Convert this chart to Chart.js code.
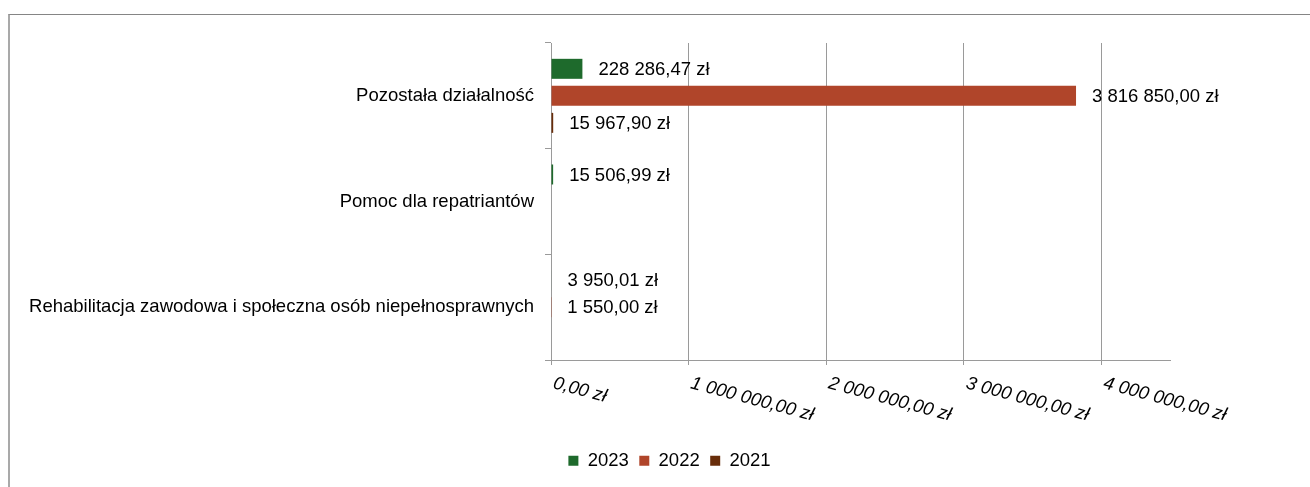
<!DOCTYPE html>
<html lang="pl">
<head>
<meta charset="utf-8">
<title>Wydatki według rozdziałów</title>
<script src="https://cdn.jsdelivr.net/npm/chart.js@4.4.1/dist/chart.umd.min.js"></script>
<style>
  html, body { margin: 0; padding: 0; background: #fff; overflow: hidden; }
  #ramka { position: absolute; left: 8px; top: 14px; width: 1320px; height: 480px;
           border-top: 1px solid #858585; border-left: 2px solid #a9a9a9; }
  #wykres { position: absolute; left: 0; top: 0; }
</style>
</head>
<body>
<div id="ramka"></div>
<canvas id="wykres" width="1339" height="487"></canvas>
<script>
// Dane: kwoty wydatków w poszczególnych latach
const kategorie = ['Pozostała działalność', 'Pomoc dla repatriantów', 'Rehabilitacja zawodowa i społeczna osób niepełnosprawnych'];
const lata = ['2023', '2022', '2021'];
const kwoty2023 = [228286.47, 15506.99, 3950.01];
const kwoty2022 = [3816850.00, null, 1550.00];
const kwoty2021 = [15967.90, null, null];
const kolory = ['#1E6A2C', '#B0452A', '#682D0A'];

// Oś wartości
const osXWartosci = [0, 1000000, 2000000, 3000000, 4000000];
const osXEtykiety = ['0,00 zł', '1 000 000,00 zł', '2 000 000,00 zł', '3 000 000,00 zł', '4 000 000,00 zł'];
const osXMax = 4500000;

const czcionka = '"Liberation Sans", Arial, sans-serif';
const rozmiar = 18.5;
const kolorSiatki = '#9a9a9a';

function formatZl(v) {
    const [calk, ulamek] = v.toFixed(2).split('.');
    return calk.replace(/\B(?=(\d{3})+(?!\d))/g, ' ') + ',' + ulamek + ' zł';
}

// Pochylone etykiety osi X (w dół w prawo, kursywa)
const etykietyOsiX = {
    id: 'etykietyOsiX',
    afterDraw(chart) {
        const skala = chart.scales.x;
        const ctx = chart.ctx;
        ctx.save();
        ctx.font = 'italic ' + rozmiar + 'px ' + czcionka;
        ctx.fillStyle = '#000';
        ctx.textAlign = 'left';
        ctx.textBaseline = 'top';
        osXWartosci.forEach((v, i) => {
            ctx.save();
            ctx.translate(skala.getPixelForValue(v) + 5, skala.top + 14);
            ctx.rotate(15 * Math.PI / 180);
            ctx.fillText(osXEtykiety[i], 0, 0);
            ctx.restore();
        });
        ctx.restore();
    }
};

// Kwoty obok słupków
const etykietyWartosci = {
    id: 'etykietyWartosci',
    afterDatasetsDraw(chart) {
        const ctx = chart.ctx;
        ctx.save();
        ctx.font = rozmiar + 'px ' + czcionka;
        ctx.fillStyle = '#000';
        ctx.textAlign = 'left';
        ctx.textBaseline = 'middle';
        chart.data.datasets.forEach((ds, i) => {
            chart.getDatasetMeta(i).data.forEach((el, j) => {
                const v = ds.data[j];
                if (v === null || v === undefined) return;
                ctx.fillText(formatZl(v), el.x + 16, el.y + 1);
            });
        });
        ctx.restore();
    }
};

Chart.defaults.font.family = czcionka;
Chart.defaults.font.size = rozmiar;
Chart.defaults.color = '#000';

const ctx = document.getElementById('wykres').getContext('2d');
const wykres = new Chart(ctx, {
    type: 'bar',
    data: {
        labels: kategorie,
        datasets: [kwoty2023, kwoty2022, kwoty2021].map((kwoty, i) => ({
            label: lata[i],
            data: kwoty,
            backgroundColor: kolory[i],
            borderWidth: 0,
            barPercentage: 0.74,
            categoryPercentage: 0.767,
        }))
    },
    options: {
        indexAxis: 'y',
        responsive: false,
        animation: false,
        layout: { padding: { left: 0, right: 0, top: 43, bottom: 7 } },
        scales: {
            x: {
                type: 'linear',
                min: 0,
                max: osXMax,
                afterBuildTicks: (s) => { s.ticks = osXWartosci.map(v => ({ value: v })); },
                afterFit: (s) => { s.height = 81; },
                ticks: { display: false },
                grid: { color: kolorSiatki, tickLength: 5 },
                border: { color: kolorSiatki }
            },
            y: {
                afterFit: (s) => { s.width = 551; },
                ticks: { padding: 11, autoSkip: false },
                grid: { drawOnChartArea: false, tickLength: 6, color: kolorSiatki, offset: true },
                border: { color: kolorSiatki }
            },
            // pusty margines po prawej stronie obszaru wykresu
            margines: {
                axis: 'y',
                position: 'right',
                afterFit: (s) => { s.width = 169; },
                ticks: { display: false },
                grid: { display: false },
                border: { display: false }
            }
        },
        plugins: {
            tooltip: { enabled: false },
            legend: {
                position: 'bottom',
                labels: { boxWidth: 10, boxHeight: 10, padding: 10.5 }
            }
        }
    },
    plugins: [etykietyWartosci, etykietyOsiX]
});
</script>
</body>
</html>
